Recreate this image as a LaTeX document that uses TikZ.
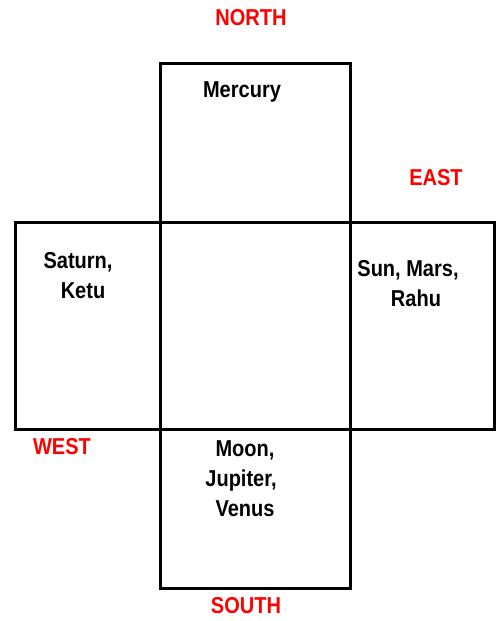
\documentclass[tikz,border=0pt]{standalone}
\usepackage{fontspec}
\setmainfont{Liberation Sans}[FakeStretch=0.87]
\begin{document}
\begin{tikzpicture}[x=1pt,y=-1pt,
  house/.style={draw=black,line width=3pt,rectangle,inner sep=0pt},
  planet/.style={font=\bfseries\fontsize{23}{30}\selectfont,align=center,inner sep=0pt,text=black},
  dir/.style={font=\bfseries\fontsize{23}{28}\selectfont,inner sep=0pt,text=red,anchor=base}]
\useasboundingbox (0,0) rectangle (496,621);
\node[house,minimum width=190pt,minimum height=159pt] (top) at (255,142.5) {};
\node[house,minimum width=145pt,minimum height=207pt] (left) at (87.5,325.5) {};
\node[house,minimum width=190pt,minimum height=207pt] (mid) at (255,325.5) {};
\node[house,minimum width=144pt,minimum height=207pt] (right) at (422,325.5) {};
\node[house,minimum width=190pt,minimum height=159pt] (bottom) at (255,508.5) {};
\node[dir] (north) at (251,25) {NORTH};
\node[dir] (east) at (436,185) {EAST};
\node[dir] (west) at (62,454) {WEST};
\node[dir] (south) at (246,613) {SOUTH};
\node[planet,anchor=base] (mercury) at (242,97) {Mercury};
\node[planet] (saturn) at (78,276) {Saturn,\\\hspace*{10pt}Ketu};
\node[planet] (sun) at (408,283.5) {Sun, Mars,\\\hspace*{16pt}Rahu};
\node[planet] (moon) at (241,479) {\hspace*{8pt}Moon,\\Jupiter,\\\hspace*{8pt}Venus};
\end{tikzpicture}
\end{document}
